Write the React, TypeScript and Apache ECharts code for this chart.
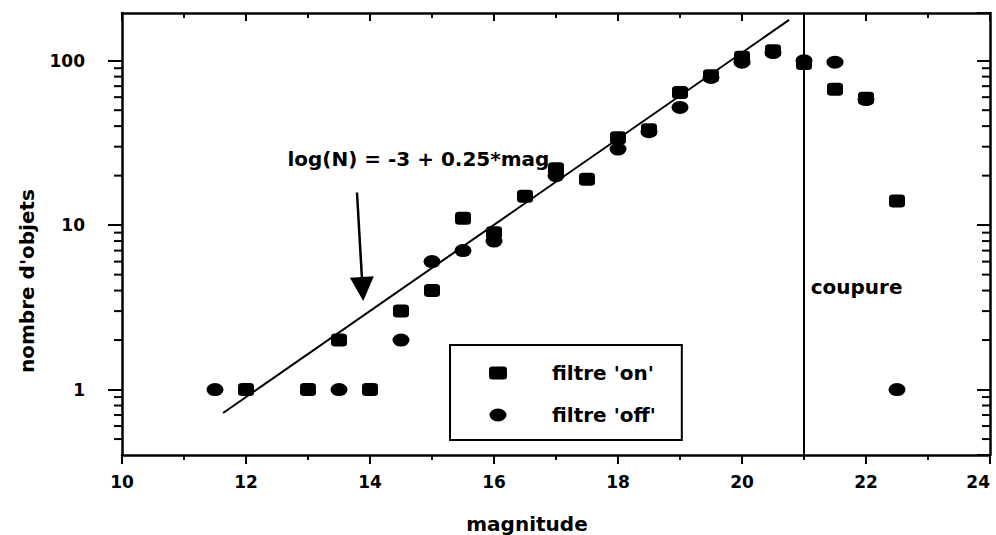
import React, { useEffect, useRef } from 'react';
import * as echarts from 'echarts';

// ---- data ----
const magOn = [12, 13, 13.5, 14, 14.5, 15, 15.5, 16, 16.5, 17, 17.5, 18, 18.5, 19, 19.5, 20, 20.5, 21, 21.5, 22, 22.5];
const countOn = [1, 1, 2, 1, 3, 4, 11, 9, 15, 22, 19, 34, 38, 64, 81, 105, 115, 96, 67, 59, 14];
const magOff = [11.5, 13.5, 14.5, 15, 15.5, 16, 17, 18, 18.5, 19, 19.5, 20, 20.5, 21, 21.5, 22, 22.5];
const countOff = [1, 1, 2, 6, 7, 8, 20, 29, 37, 52, 79, 98, 112, 100, 98, 58, 1];
const fitMag = [11.63, 20.76];
const fitCount = [0.72, 177];
const arrowMag = [13.79, 13.88];
const arrowCount = [15.8, 4.09];
const cutMag = 21;
const fitLabelPos = [12.66, 25.1];
const cutLabelPos = [21.1, 4.21];
const xRange = [10, 24];
const yRange = [0.4, 195];
const yMajorLabels = [1, 10, 100];
const yMinorTicks = [0.5, 0.6, 0.7, 0.8, 0.9, 2, 3, 4, 5, 6, 7, 8, 9, 20, 30, 40, 50, 60, 70, 80, 90];
const seriesNames = ["filtre 'on'", "filtre 'off'"];
const fitText = 'log(N) = -3 + 0.25*mag';
const cutText = 'coupure';

const FONT = '"DejaVu Sans", "Liberation Sans", sans-serif';
const txt = { fontFamily: FONT, fontWeight: 'bold' as const, color: '#000' };
const ELLIPSE = 'path://M0,6.5A8.5,6.5,0,1,0,17,6.5A8.5,6.5,0,1,0,0,6.5Z';
const blackLine = { color: '#000', width: 2.5 };
const tickLine = { color: '#000', width: 2 };

export default function App() {
  const ref = useRef<HTMLDivElement>(null);
  useEffect(() => {
    const chart = echarts.init(ref.current!, null, { renderer: 'svg' });
    const yFmt = (v: number) => (yMajorLabels.some((m) => Math.abs(m - v) < 1e-6) ? String(Math.round(v)) : '');
    const option: any = {
      animation: false,
      backgroundColor: '#fff',
      grid: { left: 122, right: 6, top: 13, bottom: 80, containLabel: false, outerBoundsMode: 'none' },
      legend: {
        left: 450,
        top: 345,
        orient: 'vertical',
        data: [
          { name: seriesNames[0], icon: 'roundRect' },
          { name: seriesNames[1], icon: ELLIPSE },
        ],
        itemWidth: 18,
        itemHeight: 13,
        itemGap: 22,
        padding: [18, 26, 15, 39],
        borderColor: '#000',
        borderWidth: 2,
        borderRadius: 0,
        backgroundColor: '#fff',
        selectedMode: false,
        itemStyle: { color: '#000' },
        textStyle: { ...txt, fontSize: 20, padding: [0, 0, 0, 40] },
      },
      xAxis: [
        {
          type: 'value',
          position: 'bottom',
          min: xRange[0],
          max: xRange[1],
          interval: 2,
          axisLine: { show: true, onZero: false, lineStyle: blackLine },
          axisTick: { show: true, inside: false, length: 9, lineStyle: tickLine },
          minorTick: { show: true, splitNumber: 2, length: 5, lineStyle: tickLine },
          splitLine: { show: false },
          minorSplitLine: { show: false },
          axisLabel: { ...txt, fontSize: 17, margin: 18, alignMaxLabel: 'right' },
          name: 'magnitude',
          nameLocation: 'middle',
          nameGap: 59,
          nameMoveOverlap: false,
          nameTextStyle: { ...txt, fontSize: 20, padding: [0, 58, 0, 0] },
        },
        {
          type: 'value',
          position: 'top',
          min: xRange[0],
          max: xRange[1],
          interval: 2,
          axisLine: { show: true, onZero: false, lineStyle: blackLine },
          axisTick: { show: true, inside: true, length: 8, lineStyle: tickLine },
          minorTick: { show: true, splitNumber: 2, length: 5, lineStyle: tickLine },
          splitLine: { show: false },
          axisLabel: { show: false },
        },
      ],
      yAxis: [
        {
          type: 'log',
          logBase: 10,
          position: 'left',
          min: yRange[0],
          max: yRange[1],
          axisLine: { show: true, onZero: false, lineStyle: blackLine },
          axisTick: { show: true, inside: false, length: 14, lineStyle: tickLine },
          splitLine: { show: false },
          axisLabel: { ...txt, fontSize: 17, margin: 37, formatter: yFmt, showMinLabel: false, showMaxLabel: false },
          name: "nombre d'objets",
          nameLocation: 'middle',
          nameGap: 85,
          nameRotate: 90,
          nameMoveOverlap: false,
          nameTextStyle: { ...txt, fontSize: 20, padding: [0, 94, 0, 0] },
        },
        {
          type: 'log',
          logBase: 10,
          position: 'right',
          min: yRange[0],
          max: yRange[1],
          axisLine: { show: true, onZero: false, lineStyle: blackLine },
          axisTick: { show: true, inside: true, length: 13, lineStyle: tickLine },
          splitLine: { show: false },
          axisLabel: { show: false },
        },
      ],
      series: [
        {
          type: 'line',
          name: 'fit',
          data: fitMag.map((m, i) => [m, fitCount[i]]),
          symbol: 'none',
          lineStyle: { color: '#000', width: 2 },
          z: 2,
          silent: true,
          markLine: {
            silent: true,
            symbol: ['none', 'triangle'],
            symbolSize: 24,
            lineStyle: { color: '#000', width: 2.5, type: 'solid' },
            itemStyle: { color: '#000' },
            label: { show: false },
            data: [[{ coord: [arrowMag[0], arrowCount[0]] }, { coord: [arrowMag[1], arrowCount[1]] }]],
          },
          markPoint: {
            silent: true,
            symbol: 'circle',
            symbolSize: 1,
            itemStyle: { color: 'rgba(0,0,0,0)' },
            label: { show: true, position: 'right', distance: 0, formatter: '{b}', ...txt, fontSize: 20 },
            data: [{ name: fitText, coord: fitLabelPos }],
          },
        },
        {
          type: 'scatter',
          name: seriesNames[0],
          data: magOn.map((m, i) => [m, countOn[i]]),
          symbol: 'roundRect',
          symbolSize: [16, 13],
          itemStyle: { color: '#000', opacity: 1 },
          z: 3,
          markLine: {
            silent: true,
            symbol: 'none',
            lineStyle: { color: '#000', width: 2, type: 'solid' },
            label: { show: false },
            data: [{ xAxis: cutMag }],
          },
          markPoint: {
            silent: true,
            symbol: 'circle',
            symbolSize: 1,
            itemStyle: { color: 'rgba(0,0,0,0)' },
            label: { show: true, position: 'right', distance: 0, formatter: '{b}', ...txt, fontSize: 20 },
            data: [{ name: cutText, coord: cutLabelPos }],
          },
        },
        {
          type: 'scatter',
          name: seriesNames[1],
          data: magOff.map((m, i) => [m, countOff[i]]),
          symbol: ELLIPSE,
          symbolSize: [17, 13],
          itemStyle: { color: '#000', opacity: 1 },
          z: 3,
        },
        {
          type: 'custom',
          name: 'minor',
          silent: true,
          clip: false,
          data: yMinorTicks.map((v) => [xRange[0], v]),
          renderItem: (_p: any, api: any) => {
            const v = api.value(1);
            const l = api.coord([xRange[0], v]);
            const r = api.coord([xRange[1], v]);
            const st = { stroke: '#000', lineWidth: 2 };
            return {
              type: 'group',
              children: [
                { type: 'line', shape: { x1: l[0] - 8, y1: l[1], x2: l[0], y2: l[1] }, style: st },
                { type: 'line', shape: { x1: r[0] - 8, y1: r[1], x2: r[0], y2: r[1] }, style: st },
              ],
            };
          },
        },
      ],
    };
    chart.setOption(option);
    return () => chart.dispose();
  }, []);
  return (
    <div
      ref={ref}
      style={{ position: 'absolute', left: 0, top: 0, width: 996, height: 535, background: '#fff' }}
    />
  );
}
